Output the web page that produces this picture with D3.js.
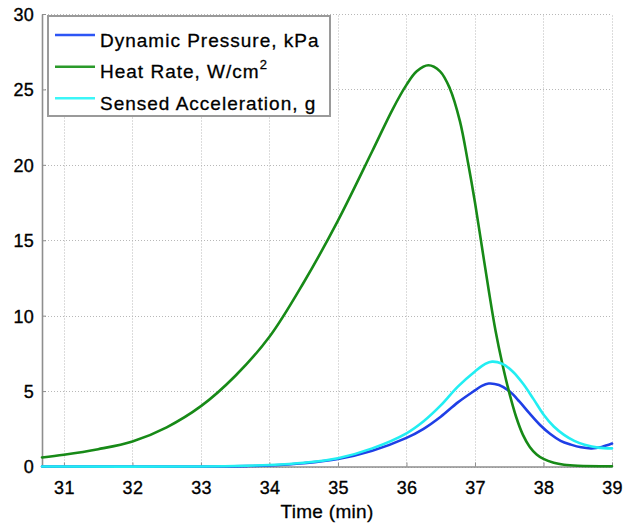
<!DOCTYPE html>
<html>
<head>
<meta charset="utf-8">
<script src="https://cdn.jsdelivr.net/npm/d3@7"></script>
<style>
  html, body { margin: 0; padding: 0; background: #fff; }
  svg { display: block; }
  text { font-family: "Liberation Sans", Arial, Helvetica, sans-serif; fill: #000; }
</style>
</head>
<body>
<svg id="chart" width="634" height="523"></svg>
<script>
// ---- data (time in minutes) ----
const heatTime = [30.68, 31.0, 31.5, 32.0, 32.5, 33.0, 33.5, 34.0, 34.5, 35.0, 35.5, 35.8, 36.0, 36.15, 36.32, 36.49, 36.63, 36.78, 36.9, 37.0, 37.1, 37.2, 37.3, 37.4, 37.5, 37.6, 37.7, 37.8, 37.9, 38.0, 38.15, 38.3, 38.5, 39.0];
const heatRate = [0.6, 0.78, 1.15, 1.66, 2.6, 4.0, 6.0, 8.6, 12.2, 16.3, 20.9, 23.7, 25.3, 26.2, 26.6, 26.2, 25.1, 22.9, 20.1, 17.5, 14.6, 11.7, 9.0, 6.8, 4.9, 3.3, 2.1, 1.3, 0.8, 0.5, 0.25, 0.12, 0.05, 0.02];

const accelTime = [30.68, 33.0, 33.5, 34.0, 34.5, 35.0, 35.5, 36.0, 36.25, 36.5, 36.75, 37.0, 37.15, 37.25, 37.4, 37.55, 37.7, 37.85, 38.0, 38.15, 38.3, 38.45, 38.6, 38.8, 39.0];
const sensedAccel = [0, 0, 0.03, 0.1, 0.25, 0.55, 1.2, 2.2, 3.0, 4.05, 5.3, 6.3, 6.8, 6.95, 6.8, 6.3, 5.5, 4.5, 3.45, 2.65, 2.1, 1.7, 1.45, 1.25, 1.2];

const pressTime = [30.68, 33.3, 33.7, 34.0, 34.5, 35.0, 35.5, 36.0, 36.25, 36.5, 36.75, 37.0, 37.1, 37.2, 37.35, 37.5, 37.65, 37.8, 37.95, 38.1, 38.25, 38.4, 38.55, 38.7, 38.85, 39.0];
const dynPressure = [0, 0, 0.03, 0.07, 0.22, 0.5, 1.05, 1.9, 2.5, 3.3, 4.25, 5.05, 5.35, 5.5, 5.4, 5.0, 4.3, 3.5, 2.75, 2.15, 1.7, 1.45, 1.27, 1.2, 1.3, 1.52];

const xTicks = [31, 32, 33, 34, 35, 36, 37, 38, 39];
const yTicks = [0, 5, 10, 15, 20, 25, 30];
const seriesNames = ["Dynamic Pressure, kPa", "Heat Rate, W/cm", "Sensed Acceleration, g"];
const xLabel = "Time (min)";

// ---- layout ----
const svg = d3.select("#chart");
const x = d3.scaleLinear().domain([30.68, 39]).range([42, 612]);
const y = d3.scaleLinear().domain([0, 30]).range([466.5, 14]);

const colors = { press: "#1f3fe6", heat: "#178a17", accel: "#22eef2" };
const legendColors = { press: "#2c55f5", heat: "#2a9a2a", accel: "#3cf6f8" };

// grid
const grid = svg.append("g");
grid.selectAll("line.gx").data(xTicks).join("line")
  .attr("x1", d => Math.round(x(d)) + 0.5).attr("x2", d => Math.round(x(d)) + 0.5)
  .attr("y1", y(0)).attr("y2", y(30))
  .attr("stroke", "#b8b8b8").attr("stroke-width", 1).attr("stroke-dasharray", "1,2");
grid.selectAll("line.gy").data(yTicks).join("line")
  .attr("x1", x.range()[0]).attr("x2", x(39))
  .attr("y1", d => Math.round(y(d)) + 0.5).attr("y2", d => Math.round(y(d)) + 0.5)
  .attr("stroke", "#b8b8b8").attr("stroke-width", 1).attr("stroke-dasharray", "1,2");

// axes
const xAxis = d3.axisBottom(x).tickValues(xTicks).tickSizeInner(-4).tickSizeOuter(0).tickPadding(14).tickFormat(d3.format("d"));
const yAxis = d3.axisLeft(y).tickValues(yTicks).tickSizeInner(-4).tickSizeOuter(0).tickPadding(8).tickFormat(d3.format("d"));

const gx = svg.append("g").attr("transform", `translate(0,${y(0)})`).call(xAxis);
const gy = svg.append("g").attr("transform", `translate(${x.range()[0]},0)`).call(yAxis);
[gx, gy].forEach(g => {
  g.select(".domain").attr("stroke", "#8e8e8e").attr("stroke-width", 1.6);
  g.selectAll(".tick line").attr("stroke", "#8e8e8e").attr("stroke-width", 1);
  g.selectAll(".tick text").attr("font-size", 18).attr("fill", "#000")
    .attr("stroke", "#000").attr("stroke-width", 0.35)
    .style("font-family", '"Liberation Sans", Arial, sans-serif').style("letter-spacing", "0.3px");
});
gx.selectAll(".tick text").attr("dy", null).attr("y", 27);
gy.selectAll(".tick text").attr("dy", "0.36em");

svg.append("text").attr("x", 327).attr("y", 518).attr("text-anchor", "middle")
  .attr("font-size", 19).attr("stroke", "#000").attr("stroke-width", 0.3)
  .style("letter-spacing", "0.3px").text(xLabel);

// lines
const line = d3.line().x(d => x(d[0])).y(d => y(d[1])).curve(d3.curveCatmullRom.alpha(0.5));
const plot = svg.append("g");
function addSeries(t, v, color) {
  plot.append("path").datum(t.map((d, i) => [d, v[i]]))
    .attr("d", line).attr("fill", "none").attr("stroke", color)
    .attr("stroke-width", 2.6).attr("stroke-linejoin", "round").attr("stroke-linecap", "round");
}
addSeries(pressTime, dynPressure, colors.press);
addSeries(heatTime, heatRate, colors.heat);
addSeries(accelTime, sensedAccel, colors.accel);

// legend
const lg = svg.append("g");
lg.append("rect").attr("x", 48).attr("y", 16).attr("width", 282).attr("height", 100)
  .attr("fill", "#fff").attr("stroke", "#9a9a9a").attr("stroke-width", 2);
const lcols = [legendColors.press, legendColors.heat, legendColors.accel];
const rowY = [35, 66.7, 98.3];
seriesNames.forEach((name, i) => {
  lg.append("line").attr("x1", 55).attr("x2", 95).attr("y1", rowY[i]).attr("y2", rowY[i])
    .attr("stroke", lcols[i]).attr("stroke-width", 2.6);
  const t = lg.append("text").attr("x", 100).attr("y", rowY[i] + 11.5)
    .attr("font-size", 19).attr("stroke", "#000").attr("stroke-width", 0.3)
    .style("letter-spacing", "1px").text(name);
  if (i === 1) {
    t.append("tspan").attr("font-size", 13).attr("dy", -9).text("2");
  }
});
</script>
</body>
</html>
